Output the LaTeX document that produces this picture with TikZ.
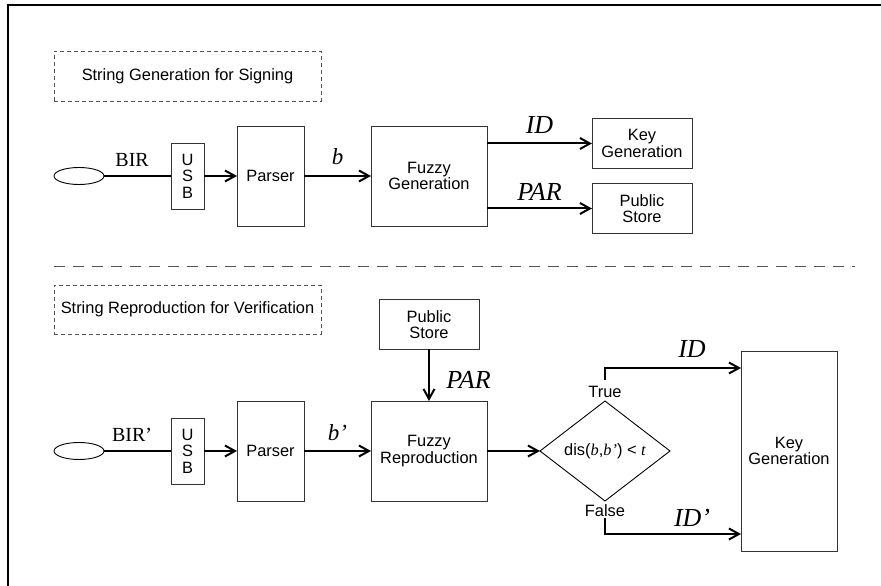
\documentclass[tikz,border=0pt]{standalone}
\usepackage{fontspec}
\setmainfont{Liberation Serif}
\setsansfont{Liberation Sans}
\usetikzlibrary{positioning,shapes.geometric,arrows.meta}
\definecolor{edgegray}{HTML}{333333}
\definecolor{dashgray}{HTML}{555555}
\newcommand{\tvar}[1]{{\rmfamily\itshape #1}}

\begin{document}
\begin{tikzpicture}[x=1pt, y=1pt,
    block/.style={rectangle, draw=edgegray, line width=0.9pt, inner sep=0pt, outer sep=0pt, align=center, font=\sffamily\fontsize{16.4}{16.6}\selectfont},
    title/.style={rectangle, draw=dashgray, line width=0.8pt, dash pattern=on 4pt off 3pt, minimum width=267pt, inner sep=0pt, font=\sffamily\fontsize{16.4}{16.6}\selectfont},
    sensor/.style={ellipse, draw=black, line width=0.9pt, minimum width=50pt, minimum height=17pt, inner sep=0pt, outer sep=0pt},
    check/.style={diamond, draw=black, line width=0.9pt, minimum width=130pt, minimum height=100pt, inner sep=0pt, outer sep=0pt, font=\sffamily\fontsize{16.4}{16.6}\selectfont},
    wire/.style={line width=2pt},
    arrow/.style={-{Straight Barb[length=10pt, width=11pt]}, line width=2pt},
    sym/.style={font=\rmfamily\itshape\fontsize{26}{26}\selectfont},
    bit/.style={font=\rmfamily\itshape\fontsize{23}{23}\selectfont},
    rawlbl/.style={font=\rmfamily\fontsize{20}{20}\selectfont},
    branch/.style={inner sep=2pt, font=\sffamily\fontsize{16.4}{16.6}\selectfont}
]
    \useasboundingbox (0,0) rectangle (881,586);
    % Frame
    \draw[line width=2pt] (8,0) -- (8,580.5) -- (881,580.5);

    % Nodes (signing)
    \node[title, minimum height=50pt] (signtitle) at (187.5,510) {String Generation for Signing};
    \node[sensor] (scan1) at (79,410) {};
    \node[block, minimum width=33pt, minimum height=66pt, right=67pt of scan1] (usb1) {U\\S\\B};
    \node[block, minimum width=67pt, minimum height=100pt, right=33pt of usb1] (parse1) {Parser};
    \node[block, minimum width=116pt, minimum height=100pt, right=67pt of parse1] (fuzgen) {Fuzzy\\Generation};
    \node[block, minimum width=100pt, minimum height=50pt] (keygen1) at (642,442.5) {Key\\Generation};
    \node[block, minimum width=100pt, minimum height=50pt] (store1) at (642,377.5) {Public\\Store};

    % Arrows (signing)
    \draw[wire] (scan1) -- node[rawlbl, above=5pt, pos=0.42] {BIR} (usb1);
    \draw[arrow] (usb1) -- (parse1);
    \draw[arrow] (parse1) -- node[bit, above=7pt] {b} (fuzgen);
    \draw[arrow] (fuzgen.east |- keygen1) -- node[sym, above=6pt] {ID} (keygen1);
    \draw[arrow] (fuzgen.east |- store1) -- node[sym, above=4pt] {PAR} (store1);

    % Divider
    \draw[line width=1pt, draw=dashgray, dash pattern=on 11pt off 8pt] (54,319) -- (855,319);

    % Nodes (verification)
    \node[title, minimum height=49pt] (verititle) at (187.5,276.5) {String Reproduction for Verification};
    \node[sensor] (scan2) at (79,135) {};
    \node[block, minimum width=33pt, minimum height=66pt, right=67pt of scan2] (usb2) {U\\S\\B};
    \node[block, minimum width=67pt, minimum height=100pt, right=33pt of usb2] (parse2) {Parser};
    \node[block, minimum width=116pt, minimum height=100pt, right=67pt of parse2] (fuzrep) {Fuzzy\\Reproduction};
    \node[block, minimum width=100pt, minimum height=50pt, above=51.5pt of fuzrep] (store2) {Public\\Store};
    \node[check, right=53pt of fuzrep] (match) {dis(\tvar{b},\tvar{b'}) < \tvar{t}};
    \node[block, minimum width=96pt, minimum height=200pt, right=71pt of match] (keygen2) {Key\\Generation};
    \node[branch, above=1pt of match.north] (yes) {True};
    \node[branch, below=1pt of match.south] (no) {False};

    % Arrows (verification)
    \draw[wire] (scan2) -- node[rawlbl, above=5pt, pos=0.42] {BIR'} (usb2);
    \draw[arrow] (usb2) -- (parse2);
    \draw[arrow] (parse2) -- node[bit, above=6pt] {b'} (fuzrep);
    \draw[arrow] (store2) -- node[sym, right=13pt, pos=0.59] {PAR} (fuzrep);
    \draw[arrow] (fuzrep) -- (match);
    \draw[arrow] ([yshift=4pt]yes.north) |- node[sym, above=6pt, pos=0.82] {ID} ([yshift=-17pt]keygen2.north west);
    \draw[arrow] (no.south) |- node[sym, above=3pt, pos=0.82] {ID'} ([yshift=17pt]keygen2.south west);
\end{tikzpicture}
\end{document}
